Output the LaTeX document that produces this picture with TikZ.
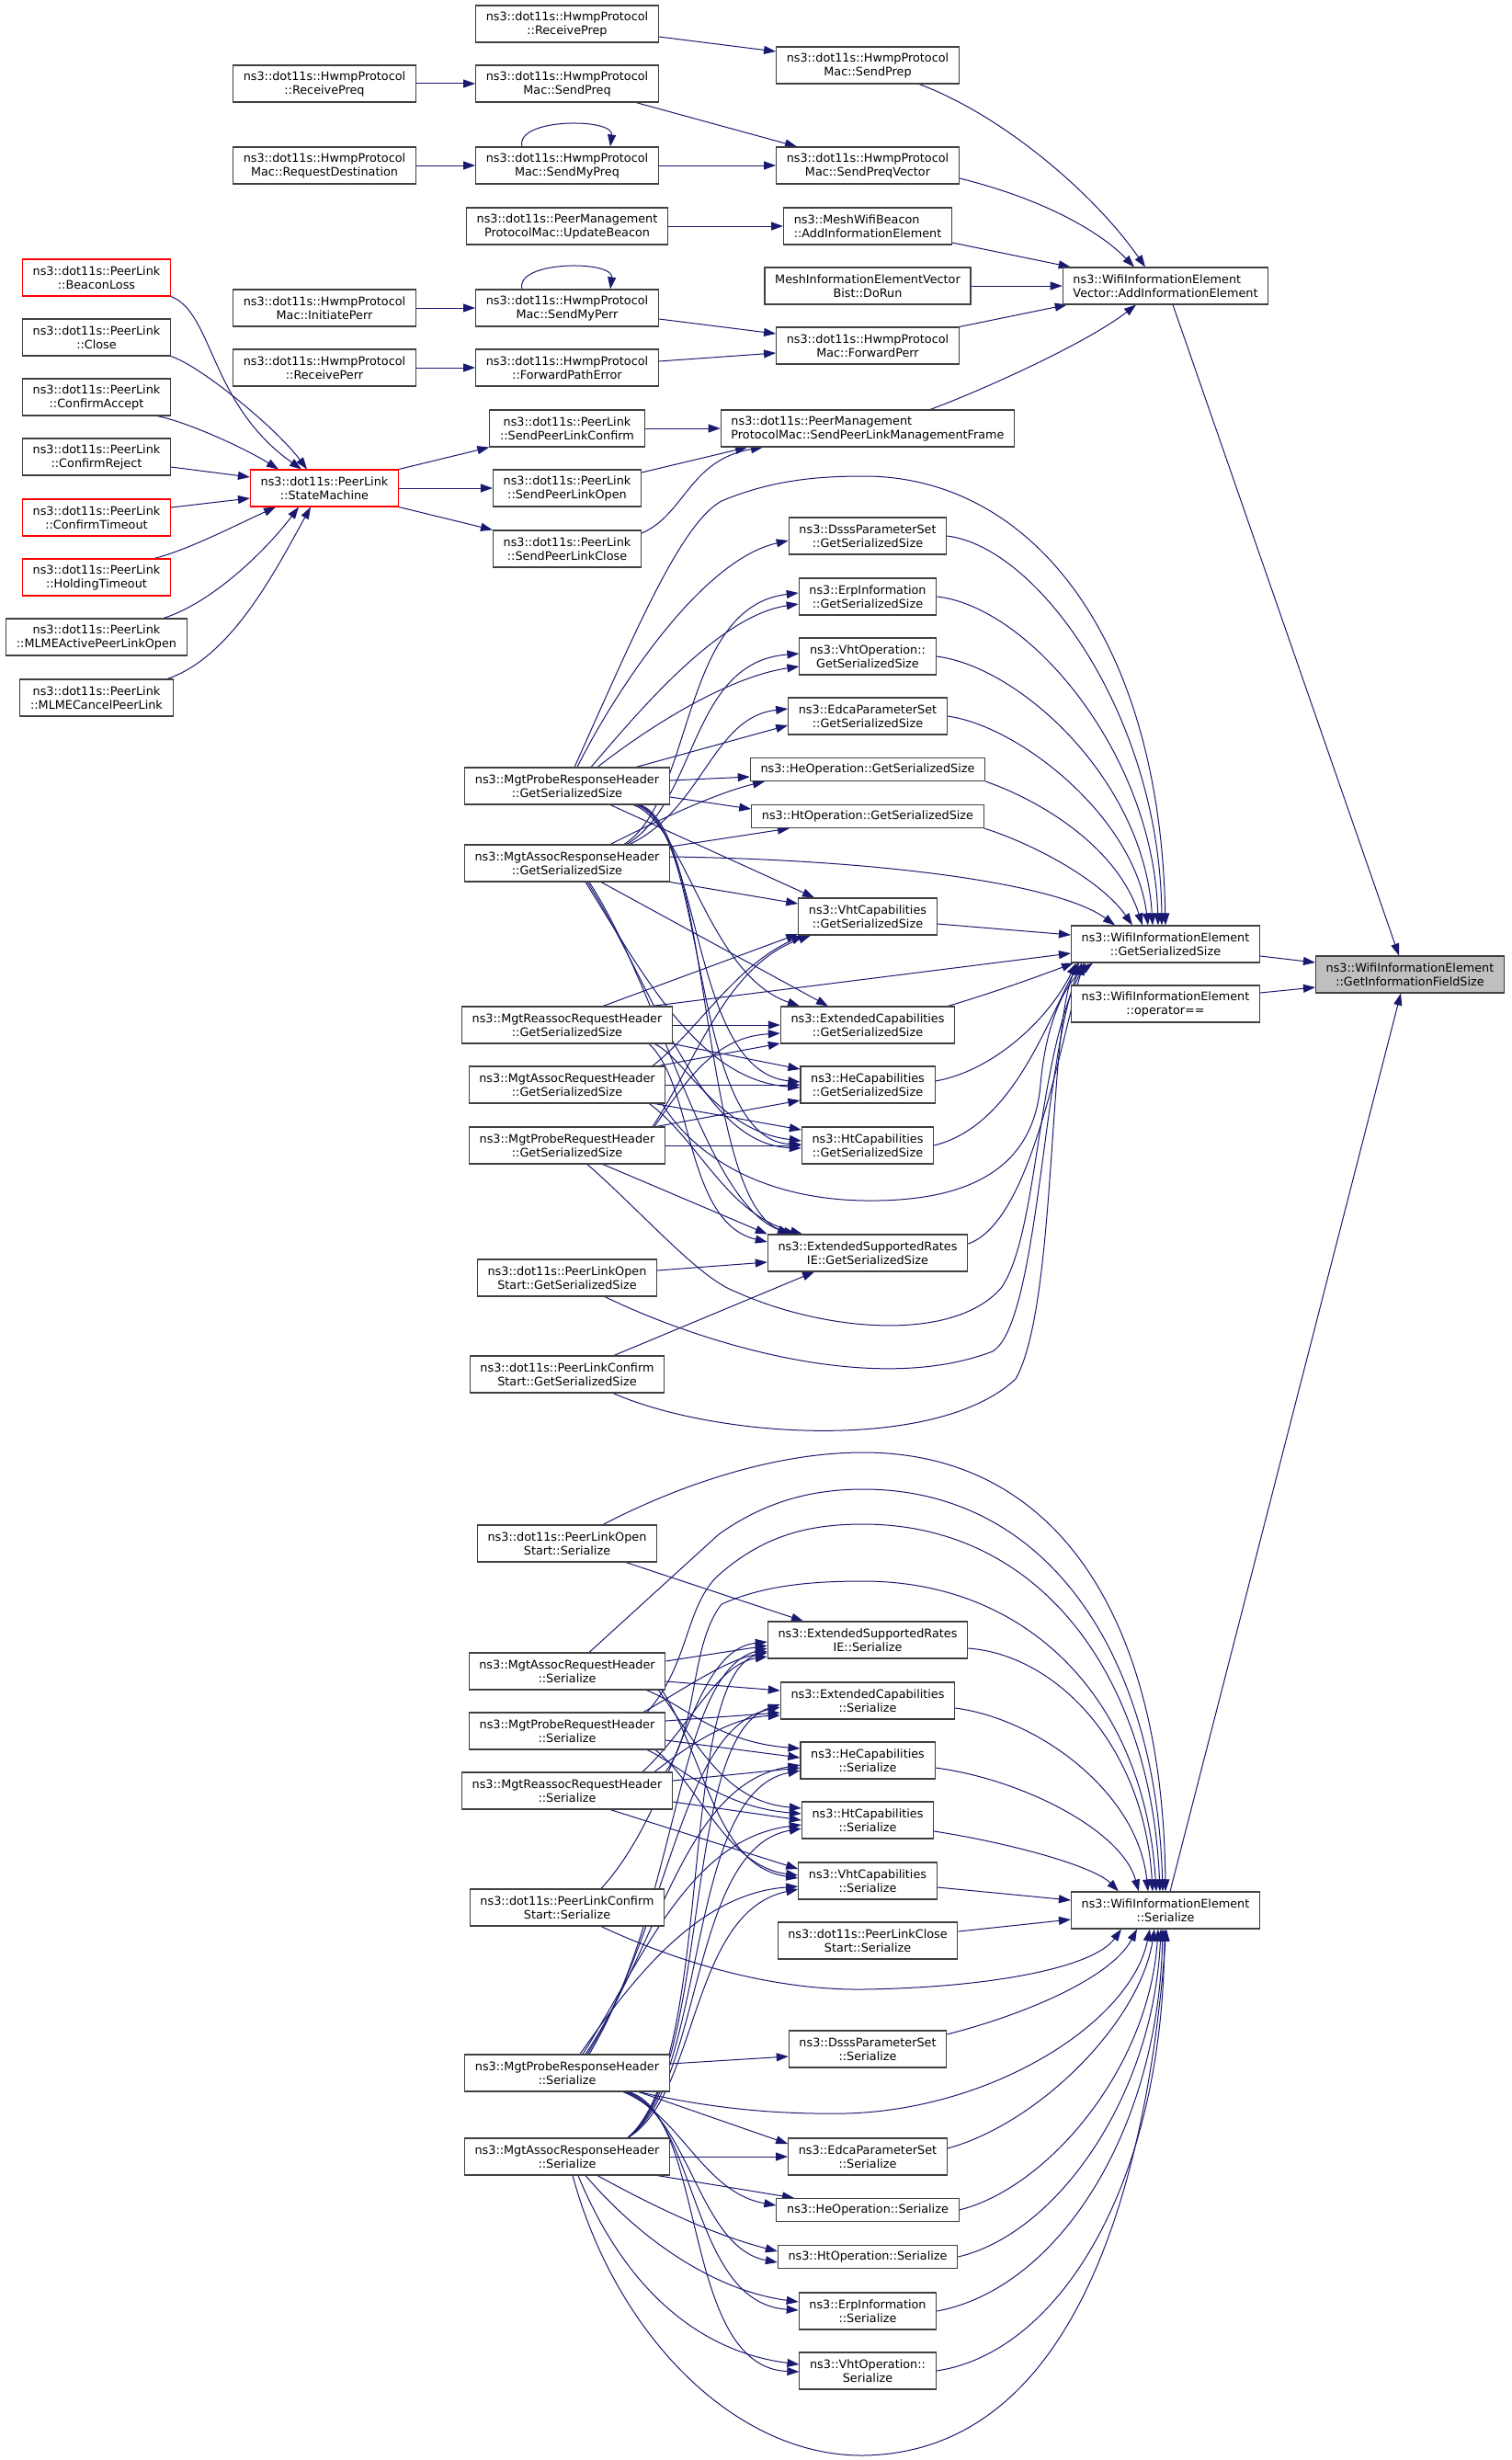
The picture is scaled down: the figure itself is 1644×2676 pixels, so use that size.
\documentclass[tikz,border=0pt]{standalone}
\usepackage{fontspec}
\setmainfont{DejaVu Sans}
\usetikzlibrary{arrows.meta}
\definecolor{edgeblue}{HTML}{191970}
\definecolor{boxgray}{HTML}{404040}
\definecolor{linkred}{HTML}{FF0000}
\definecolor{curgray}{HTML}{BFBFBF}
\newcommand{\nodefont}{\fontsize{6.4}{7.5}\selectfont}
\pgfdeclarelayer{back}
\pgfsetlayers{back,main}
\tikzstyle{fnode} = [draw=boxgray, fill=white, line width=0.55pt, align=center, font=\nodefont, inner xsep=5.6pt, inner ysep=2pt, minimum height=20pt]
\tikzstyle{lnode} = [fnode, align=left]
\tikzstyle{rnode} = [fnode, draw=linkred]
\tikzstyle{snode} = [fnode, minimum height=12.5pt]
\tikzstyle{cnode} = [fnode, fill=curgray]
\tikzstyle{call} = [draw=edgeblue, line width=0.5pt, -{Triangle[length=6.5pt,width=4.5pt]}]

\begin{document}
\begin{tikzpicture}[x=0.5pt, y=-0.5pt]
	\useasboundingbox (0,0) rectangle (1644,2676);

	\node [rnode] (bl) at (105,302) {ns3::dot11s::PeerLink\\::BeaconLoss};
	\node [fnode] (cl) at (105,367) {ns3::dot11s::PeerLink\\::Close};
	\node [fnode] (ca) at (105,432) {ns3::dot11s::PeerLink\\::ConfirmAccept};
	\node [fnode] (cr) at (105,497) {ns3::dot11s::PeerLink\\::ConfirmReject};
	\node [rnode] (ct) at (105,563) {ns3::dot11s::PeerLink\\::ConfirmTimeout};
	\node [rnode] (ht) at (105,628) {ns3::dot11s::PeerLink\\::HoldingTimeout};
	\node [fnode] (mo) at (105,693) {ns3::dot11s::PeerLink\\::MLMEActivePeerLinkOpen};
	\node [fnode] (mc) at (105,759) {ns3::dot11s::PeerLink\\::MLMECancelPeerLink};

	\node [fnode] (rpq) at (353,91) {ns3::dot11s::HwmpProtocol\\::ReceivePreq};
	\node [fnode] (rd) at (353,180) {ns3::dot11s::HwmpProtocol\\Mac::RequestDestination};
	\node [fnode] (ip) at (353,335) {ns3::dot11s::HwmpProtocol\\Mac::InitiatePerr};
	\node [fnode] (rpe) at (353,400) {ns3::dot11s::HwmpProtocol\\::ReceivePerr};
	\node [rnode] (sm) at (353,531) {ns3::dot11s::PeerLink\\::StateMachine};

	\node [fnode] (rpp) at (617,26) {ns3::dot11s::HwmpProtocol\\::ReceivePrep};
	\node [fnode] (spq) at (617,91) {ns3::dot11s::HwmpProtocol\\Mac::SendPreq};
	\node [fnode] (smq) at (617,180) {ns3::dot11s::HwmpProtocol\\Mac::SendMyPreq};
	\node [fnode] (ub) at (617,246) {ns3::dot11s::PeerManagement\\ProtocolMac::UpdateBeacon};
	\node [fnode] (sme) at (617,335) {ns3::dot11s::HwmpProtocol\\Mac::SendMyPerr};
	\node [fnode] (fpe) at (617,400) {ns3::dot11s::HwmpProtocol\\::ForwardPathError};
	\node [fnode] (splc) at (617,466) {ns3::dot11s::PeerLink\\::SendPeerLinkConfirm};
	\node [fnode] (splo) at (617,531) {ns3::dot11s::PeerLink\\::SendPeerLinkOpen};
	\node [fnode] (splx) at (617,597) {ns3::dot11s::PeerLink\\::SendPeerLinkClose};

	\node [fnode] (spp) at (944,71) {ns3::dot11s::HwmpProtocol\\Mac::SendPrep};
	\node [fnode] (spv) at (944,180) {ns3::dot11s::HwmpProtocol\\Mac::SendPreqVector};
	\node [lnode] (mwb) at (944,246) {ns3::MeshWifiBeacon\\::AddInformationElement};
	\node [fnode] (dr) at (944,311) {MeshInformationElementVector\\Bist::DoRun};
	\node [fnode] (fpr) at (944,376) {ns3::dot11s::HwmpProtocol\\Mac::ForwardPerr};
	\node [lnode] (splmf) at (944,466) {ns3::dot11s::PeerManagement\\ProtocolMac::SendPeerLinkManagementFrame};

	\node [lnode] (aie) at (1268,311) {ns3::WifiInformationElement\\Vector::AddInformationElement};

	\node [fnode] (prhg) at (617,855) {ns3::MgtProbeResponseHeader\\::GetSerializedSize};
	\node [fnode] (arhg) at (617,939) {ns3::MgtAssocResponseHeader\\::GetSerializedSize};
	\node [fnode] (rrhg) at (617,1115) {ns3::MgtReassocRequestHeader\\::GetSerializedSize};
	\node [fnode] (aqhg) at (617,1180) {ns3::MgtAssocRequestHeader\\::GetSerializedSize};
	\node [fnode] (pqhg) at (617,1246) {ns3::MgtProbeRequestHeader\\::GetSerializedSize};
	\node [fnode] (plosg) at (617,1390) {ns3::dot11s::PeerLinkOpen\\Start::GetSerializedSize};
	\node [fnode] (plcsg) at (617,1495) {ns3::dot11s::PeerLinkConfirm\\Start::GetSerializedSize};

	\node [fnode] (dsg) at (944,583) {ns3::DsssParameterSet\\::GetSerializedSize};
	\node [fnode] (erg) at (944,649) {ns3::ErpInformation\\::GetSerializedSize};
	\node [fnode] (vog) at (944,714) {ns3::VhtOperation::\\GetSerializedSize};
	\node [fnode] (edg) at (944,779) {ns3::EdcaParameterSet\\::GetSerializedSize};
	\node [snode] (heog) at (944,837) {ns3::HeOperation::GetSerializedSize};
	\node [snode] (htog) at (944,888) {ns3::HtOperation::GetSerializedSize};
	\node [fnode] (vcg) at (944,997) {ns3::VhtCapabilities\\::GetSerializedSize};
	\node [fnode] (ecg) at (944,1115) {ns3::ExtendedCapabilities\\::GetSerializedSize};
	\node [fnode] (hcg) at (944,1180) {ns3::HeCapabilities\\::GetSerializedSize};
	\node [fnode] (htcg) at (944,1246) {ns3::HtCapabilities\\::GetSerializedSize};
	\node [fnode] (esrg) at (944,1363) {ns3::ExtendedSupportedRates\\IE::GetSerializedSize};

	\node [fnode] (gss) at (1268,1027) {ns3::WifiInformationElement\\::GetSerializedSize};
	\node [fnode] (opeq) at (1268,1092) {ns3::WifiInformationElement\\::operator==};
	\node [cnode] (gifs) at (1534,1060) {ns3::WifiInformationElement\\::GetInformationFieldSize};

	\node [fnode] (ploss) at (617,1679) {ns3::dot11s::PeerLinkOpen\\Start::Serialize};
	\node [fnode] (aqhs) at (617,1818) {ns3::MgtAssocRequestHeader\\::Serialize};
	\node [fnode] (pqhs) at (617,1883) {ns3::MgtProbeRequestHeader\\::Serialize};
	\node [fnode] (rrhs) at (617,1948) {ns3::MgtReassocRequestHeader\\::Serialize};
	\node [fnode] (plcss) at (617,2075) {ns3::dot11s::PeerLinkConfirm\\Start::Serialize};
	\node [fnode] (prhs) at (617,2255) {ns3::MgtProbeResponseHeader\\::Serialize};
	\node [fnode] (arhs) at (617,2346) {ns3::MgtAssocResponseHeader\\::Serialize};

	\node [fnode] (esrs) at (944,1784) {ns3::ExtendedSupportedRates\\IE::Serialize};
	\node [fnode] (ecs) at (944,1850) {ns3::ExtendedCapabilities\\::Serialize};
	\node [fnode] (hcs) at (944,1915) {ns3::HeCapabilities\\::Serialize};
	\node [fnode] (htcs) at (944,1980) {ns3::HtCapabilities\\::Serialize};
	\node [fnode] (vcs) at (944,2046) {ns3::VhtCapabilities\\::Serialize};
	\node [fnode] (plxs) at (944,2111) {ns3::dot11s::PeerLinkClose\\Start::Serialize};
	\node [fnode] (dss) at (944,2229) {ns3::DsssParameterSet\\::Serialize};
	\node [fnode] (eds) at (944,2346) {ns3::EdcaParameterSet\\::Serialize};
	\node [snode] (heos) at (944,2404) {ns3::HeOperation::Serialize};
	\node [snode] (htos) at (944,2455) {ns3::HtOperation::Serialize};
	\node [fnode] (ers) at (944,2514) {ns3::ErpInformation\\::Serialize};
	\node [fnode] (vos) at (944,2579) {ns3::VhtOperation::\\Serialize};

	\node [fnode] (ser) at (1268,2078) {ns3::WifiInformationElement\\::Serialize};

	\begin{pgfonlayer}{back}
	\path [call] (bl.south east) .. controls (232,340) and (228,440) .. ([shift={(-25,0)}]sm.north);
	\path [call] (cl.south east) .. controls (218,398) and (300,465) .. ([shift={(-19,0)}]sm.north);
	\path [call] ([shift={(-15,0)}]ca.south east) .. controls (200,458) and (262,485) .. ([shift={(-50,0)}]sm.north);
	\path [call] ([shift={(0,11)}]cr.east) -- ([shift={(0,-12)}]sm.west);
	\path [call] ([shift={(0,-11)}]ct.east) -- ([shift={(0,11)}]sm.west);
	\path [call] ([shift={(63,0)}]ht.north) .. controls (205,598) and (255,572) .. ([shift={(-53,0)}]sm.south);
	\path [call] ([shift={(73,0)}]mo.north) .. controls (232,655) and (290,598) .. ([shift={(-28,0)}]sm.south);
	\path [call] ([shift={(77,0)}]mc.north) .. controls (252,715) and (300,620) .. ([shift={(-15,0)}]sm.south);

	\path [call] (rpq.east) -- (spq.west);
	\path [call] (rd.east) -- (smq.west);
	\path [call] (ip.east) -- (sme.west);
	\path [call] (rpe.east) -- (fpe.west);
	\path [call] ([shift={(-49,0)}]smq.north) .. controls (560,128) and (668,128) .. ([shift={(47,0)}]smq.north);
	\path [call] ([shift={(-49,0)}]sme.north) .. controls (560,283) and (668,283) .. ([shift={(47,0)}]sme.north);
	\path [call] (sm.north east) -- (splc.south west);
	\path [call] (sm.east) -- (splo.west);
	\path [call] (sm.south east) -- (splx.north west);

	\path [call] ([shift={(0,14)}]rpp.east) -- ([shift={(0,-15)}]spp.west);
	\path [call] ([shift={(75,0)}]spq.south) -- ([shift={(-77,0)}]spv.north);
	\path [call] (smq.east) -- (spv.west);
	\path [call] (ub.east) -- (mwb.west);
	\path [call] ([shift={(0,12)}]sme.east) -- ([shift={(0,-13)}]fpr.west);
	\path [call] ([shift={(0,-7)}]fpe.east) -- ([shift={(0,8)}]fpr.west);
	\path [call] (splc.east) -- (splmf.west);
	\path [call] ([shift={(0,-17)}]splo.east) -- ([shift={(-131,0)}]splmf.south);
	\path [call] ([shift={(0,-17)}]splx.east) .. controls (745,560) and (750,500) .. ([shift={(-114,0)}]splmf.south);

	\path [call] ([shift={(56,0)}]spp.south) .. controls (1090,125) and (1190,210) .. ([shift={(-22,0)}]aie.north);
	\path [call] ([shift={(0,14)}]spv.east) .. controls (1130,215) and (1195,250) .. ([shift={(-34,0)}]aie.north);
	\path [call] ([shift={(0,18)}]mwb.east) -- ([shift={(9,0)}]aie.north west);
	\path [call] (dr.east) -- (aie.west);
	\path [call] (fpr.north east) -- ([shift={(5,0)}]aie.south west);
	\path [call] ([shift={(68,0)}]splmf.north) .. controls (1060,428) and (1180,375) .. ([shift={(-32,0)}]aie.south);

	\path [call] ([shift={(8,0)}]aie.south) -- ([shift={(-12,0)}]gifs.north);
	\path [call] ([shift={(0,13)}]gss.east) -- ([shift={(0,-13)}]gifs.west);
	\path [call] ([shift={(0,-12)}]opeq.east) -- ([shift={(0,14)}]gifs.west);
	\path [call] ([shift={(5,0)}]ser.north) -- ([shift={(-10,0)}]gifs.south);

	\path [call] ([shift={(8,0)}]prhg.north) .. controls (690,690) and (740,570) .. (785,545) .. controls (840,522) and (890,518) .. (940,518) .. controls (1120,518) and (1262,690) .. (gss.north);
	\path [call] ([shift={(11,0)}]prhg.north) .. controls (665,760) and (760,610) .. ([shift={(0,5)}]dsg.west);
	\path [call] ([shift={(26,0)}]prhg.north) .. controls (690,780) and (780,670) .. ([shift={(0,8)}]erg.west);
	\path [call] ([shift={(33,0)}]prhg.north) .. controls (720,780) and (800,735) .. ([shift={(0,11)}]vog.west);
	\path [call] ([shift={(75,0)}]prhg.north) -- ([shift={(0,10)}]edg.west);
	\path [call] ([shift={(0,-6)}]prhg.east) -- ([shift={(0,8)}]heog.west);
	\path [call] ([shift={(0,12)}]prhg.east) -- ([shift={(0,-8)}]htog.west);
	\path [call] ([shift={(47,0)}]prhg.south) -- ([shift={(-58,0)}]vcg.north);
	\path [call] ([shift={(72,0)}]prhg.south) .. controls (745,895) and (770,1060) .. ([shift={(-74,0)}]ecg.north);
	\path [call] ([shift={(75,0)}]prhg.south) .. controls (765,900) and (750,1165) .. ([shift={(0,-3)}]hcg.west);
	\path [call] ([shift={(77,0)}]prhg.south) .. controls (770,900) and (750,1240) .. ([shift={(0,-1)}]htcg.west);
	\path [call] ([shift={(79,0)}]prhg.south) .. controls (775,900) and (760,1300) .. ([shift={(-85,0)}]esrg.north);

	\path [call] ([shift={(62,0)}]arhg.north) .. controls (755,870) and (740,660) .. ([shift={(0,-4)}]erg.west);
	\path [call] ([shift={(65,0)}]arhg.north) .. controls (760,870) and (750,720) .. ([shift={(0,-3)}]vog.west);
	\path [call] ([shift={(68,0)}]arhg.north) .. controls (765,880) and (775,780) .. ([shift={(0,-8)}]edg.west);
	\path [call] ([shift={(47,0)}]arhg.north) .. controls (740,880) and (790,860) .. ([shift={(-112,0)}]heog.south);
	\path [call] ([shift={(0,-18)}]arhg.east) -- ([shift={(-85,0)}]htog.south);
	\path [call] ([shift={(0,-7)}]arhg.east) .. controls (950,935) and (1150,960) .. ([shift={(-55,0)}]gss.north);
	\path [call] (arhg.south east) -- ([shift={(0,-14)}]vcg.west);
	\path [call] ([shift={(37,0)}]arhg.south) -- ([shift={(-43,0)}]ecg.north);
	\path [call] ([shift={(20,0)}]arhg.south) .. controls (700,1060) and (760,1175) .. ([shift={(0,3)}]hcg.west);
	\path [call] ([shift={(22,0)}]arhg.south) .. controls (710,1070) and (760,1245) .. ([shift={(0,3)}]htcg.west);
	\path [call] ([shift={(24,0)}]arhg.south) .. controls (720,1080) and (770,1320) .. ([shift={(-78,0)}]esrg.north);

	\path [call] ([shift={(39,0)}]rrhg.north) -- ([shift={(0,19)}]vcg.west);
	\path [call] ([shift={(92,0)}]rrhg.north) -- ([shift={(0,10)}]gss.west);
	\path [call] (rrhg.east) -- (ecg.west);
	\path [call] (rrhg.south east) -- ([shift={(0,-17)}]hcg.west);
	\path [call] ([shift={(-20,0)}]rrhg.south east) .. controls (745,1150) and (780,1230) .. ([shift={(0,-5)}]htcg.west);
	\path [call] ([shift={(-26,0)}]rrhg.south east) .. controls (755,1180) and (745,1330) .. ([shift={(0,-12)}]esrg.west);

	\path [call] ([shift={(93,0)}]aqhg.north) .. controls (760,1120) and (800,1050) .. ([shift={(-70,0)}]vcg.south);
	\path [call] ([shift={(-8,0)}]aqhg.north east) -- ([shift={(0,20)}]ecg.west);
	\path [call] (aqhg.east) -- (hcg.west);
	\path [call] ([shift={(-12,0)}]aqhg.south east) -- ([shift={(0,-17)}]htcg.west);
	\path [call] ([shift={(-18,0)}]aqhg.south east) .. controls (760,1240) and (790,1320) .. ([shift={(-71,0)}]esrg.north);
	\path [call] ([shift={(-4,0)}]aqhg.south east) .. controls (750,1250) and (820,1304) .. (940,1306) .. controls (1070,1308) and (1125,1260) .. (1132,1180) .. controls (1138,1110) and (1160,1068) .. ([shift={(24,0)}]gss.south west);

	\path [call] ([shift={(93,0)}]pqhg.north) .. controls (760,1150) and (790,1050) .. ([shift={(-62,0)}]vcg.south);
	\path [call] ([shift={(95,0)}]pqhg.north) .. controls (750,1170) and (780,1128) .. ([shift={(0,9)}]ecg.west);
	\path [call] ([shift={(97,0)}]pqhg.north) -- ([shift={(0,17)}]hcg.west);
	\path [call] (pqhg.east) -- (htcg.west);
	\path [call] ([shift={(39,0)}]pqhg.south) -- (esrg.north west);
	\path [call] ([shift={(22,0)}]pqhg.south) .. controls (700,1320) and (760,1390) .. (800,1405) .. controls (900,1450) and (1040,1460) .. (1090,1400) .. controls (1130,1340) and (1128,1150) .. ([shift={(16,0)}]gss.south west);

	\path [call] ([shift={(0,-8)}]plosg.east) -- ([shift={(0,10)}]esrg.west);
	\path [call] ([shift={(41,0)}]plosg.south) .. controls (760,1460) and (950,1520) .. (1080,1470) .. controls (1130,1440) and (1135,1150) .. ([shift={(12,0)}]gss.south west);
	\path [call] ([shift={(51,0)}]plcsg.north) -- ([shift={(-58,0)}]esrg.south);
	\path [call] ([shift={(50,0)}]plcsg.south) .. controls (780,1565) and (1020,1580) .. (1105,1500) .. controls (1150,1420) and (1140,1120) .. ([shift={(8,0)}]gss.south west);

	\path [call] (dsg.east) .. controls (1130,595) and (1262,780) .. ([shift={(-4,0)}]gss.north);
	\path [call] (erg.east) .. controls (1120,660) and (1255,820) .. ([shift={(-8,0)}]gss.north);
	\path [call] (vog.east) .. controls (1110,725) and (1245,850) .. ([shift={(-14,0)}]gss.north);
	\path [call] (edg.east) .. controls (1110,790) and (1235,890) .. ([shift={(-19,0)}]gss.north);
	\path [call] (heog.south east) .. controls (1130,870) and (1215,920) .. ([shift={(-25,0)}]gss.north);
	\path [call] (htog.south east) .. controls (1130,920) and (1200,960) .. ([shift={(-36,0)}]gss.north);
	\path [call] ([shift={(0,8)}]vcg.east) -- ([shift={(0,-10)}]gss.west);
	\path [call] ([shift={(-8,0)}]ecg.north east) .. controls (1080,1080) and (1130,1062) .. ([shift={(3,0)}]gss.south west);
	\path [call] ([shift={(0,-4)}]hcg.east) .. controls (1080,1165) and (1140,1110) .. ([shift={(6,0)}]gss.south west);
	\path [call] (htcg.east) .. controls (1100,1225) and (1135,1120) .. ([shift={(9,0)}]gss.south west);
	\path [call] ([shift={(0,-10)}]esrg.east) .. controls (1120,1330) and (1150,1150) .. ([shift={(14,0)}]gss.south west);

	\path [call] ([shift={(64,0)}]ploss.south) -- ([shift={(-70,0)}]esrs.north);
	\path [call] ([shift={(39,0)}]ploss.north) .. controls (720,1625) and (830,1580) .. (939,1580) .. controls (1150,1580) and (1265,1760) .. (ser.north);

	\path [call] ([shift={(0,-11)}]aqhs.east) -- ([shift={(0,6)}]esrs.west);
	\path [call] ([shift={(0,11)}]aqhs.east) -- ([shift={(0,-11)}]ecs.west);
	\path [call] ([shift={(-21,0)}]aqhs.south east) .. controls (745,1855) and (780,1895) .. ([shift={(0,-13)}]hcs.west);
	\path [call] ([shift={(-8,0)}]aqhs.south east) .. controls (760,1900) and (790,1960) .. ([shift={(0,-13)}]htcs.west);
	\path [call] ([shift={(-4,0)}]aqhs.south east) .. controls (770,1920) and (780,2030) .. ([shift={(0,-3)}]vcs.west);
	\path [call] ([shift={(24,0)}]aqhs.north) -- (782,1669) .. controls (830,1635) and (880,1620) .. (939,1620) .. controls (1140,1620) and (1258,1800) .. ([shift={(-3,0)}]ser.north);

	\path [call] ([shift={(-24,0)}]pqhs.north east) .. controls (740,1840) and (790,1805) .. ([shift={(0,14)}]esrs.west);
	\path [call] ([shift={(0,-11)}]pqhs.east) -- ([shift={(0,13)}]ecs.west);
	\path [call] ([shift={(0,10)}]pqhs.east) -- ([shift={(0,-3)}]hcs.west);
	\path [call] ([shift={(-20,0)}]pqhs.south east) .. controls (740,1920) and (780,1965) .. ([shift={(0,-7)}]htcs.west);
	\path [call] ([shift={(-11,0)}]pqhs.south east) .. controls (760,1940) and (790,2030) .. ([shift={(0,-6)}]vcs.west);
	\path [call] ([shift={(-20,0)}]pqhs.north east) .. controls (750,1810) and (745,1750) .. (780,1715) .. controls (830,1670) and (880,1658) .. (939,1658) .. controls (1130,1658) and (1252,1820) .. ([shift={(-6,0)}]ser.north);

	\path [call] ([shift={(-33,0)}]rrhs.north east) .. controls (750,1880) and (780,1810) .. ([shift={(0,18)}]esrs.west);
	\path [call] ([shift={(-20,0)}]rrhs.north east) .. controls (760,1890) and (800,1868) .. ([shift={(0,16)}]ecs.west);
	\path [call] ([shift={(0,-11)}]rrhs.east) -- ([shift={(0,8)}]hcs.west);
	\path [call] ([shift={(0,12)}]rrhs.east) -- (htcs.west);
	\path [call] ([shift={(47,0)}]rrhs.south) -- ([shift={(0,-13)}]vcs.west);
	\path [call] ([shift={(-8,0)}]rrhs.north east) .. controls (760,1880) and (750,1790) .. (785,1745) .. controls (830,1725) and (880,1720) .. (939,1720) .. controls (1120,1720) and (1245,1850) .. ([shift={(-10,0)}]ser.north);

	\path [call] ([shift={(37,0)}]plcss.north) .. controls (740,1960) and (750,1795) .. ([shift={(0,2)}]esrs.west);
	\path [call] ([shift={(37,0)}]plcss.south) .. controls (760,2145) and (860,2165) .. (939,2164) .. controls (1080,2162) and (1190,2140) .. ([shift={(-48,0)}]ser.south);

	\path [call] ([shift={(0,-10)}]prhs.east) -- ([shift={(0,8)}]dss.west);
	\path [call] ([shift={(-34,0)}]prhs.south east) -- ([shift={(0,-14)}]eds.west);
	\path [call] ([shift={(-51,0)}]prhs.south east) .. controls (740,2300) and (765,2385) .. ([shift={(0,-5)}]heos.west);
	\path [call] ([shift={(-49,0)}]prhs.south east) .. controls (750,2300) and (760,2445) .. ([shift={(0,6)}]htos.west);
	\path [call] ([shift={(-47,0)}]prhs.south east) .. controls (760,2300) and (750,2505) .. ([shift={(0,-1)}]ers.west);
	\path [call] ([shift={(-45,0)}]prhs.south east) .. controls (770,2300) and (740,2575) .. ([shift={(0,1)}]vos.west);
	\path [call] ([shift={(-34,0)}]prhs.south east) .. controls (780,2295) and (850,2300) .. (920,2299) .. controls (1080,2295) and (1230,2200) .. ([shift={(-17,0)}]ser.south);
	\path [call] ([shift={(14,0)}]prhs.north) .. controls (690,2150) and (760,2060) .. ([shift={(0,6)}]vcs.west);
	\path [call] ([shift={(17,0)}]prhs.north) .. controls (700,2130) and (750,2000) .. ([shift={(0,5)}]htcs.west);
	\path [call] ([shift={(20,0)}]prhs.north) .. controls (720,2110) and (745,1940) .. ([shift={(0,5)}]hcs.west);
	\path [call] ([shift={(22,0)}]prhs.north) .. controls (730,2090) and (740,1880) .. ([shift={(0,7)}]ecs.west);
	\path [call] ([shift={(24,0)}]prhs.north) .. controls (740,2070) and (735,1820) .. ([shift={(0,9)}]esrs.west);

	\path [call] (arhs.east) -- (eds.west);
	\path [call] ([shift={(-14,0)}]arhs.south east) -- ([shift={(-80,0)}]heos.north);
	\path [call] ([shift={(33,0)}]arhs.south) .. controls (720,2405) and (780,2432) .. ([shift={(0,-6)}]htos.west);
	\path [call] ([shift={(20,0)}]arhs.south) .. controls (700,2440) and (780,2492) .. ([shift={(0,-10)}]ers.west);
	\path [call] ([shift={(12,0)}]arhs.south) .. controls (680,2490) and (760,2558) .. ([shift={(0,-7)}]vos.west);
	\path [call] ([shift={(6,0)}]arhs.south) .. controls (670,2540) and (800,2672) .. (939,2671) .. controls (1180,2668) and (1250,2350) .. ([shift={(1,0)}]ser.south);
	\path [call] ([shift={(66,0)}]arhs.north) .. controls (760,2280) and (750,2080) .. ([shift={(0,9)}]vcs.west);
	\path [call] ([shift={(66,0)}]arhs.north) .. controls (765,2270) and (750,2010) .. ([shift={(0,9)}]htcs.west);
	\path [call] ([shift={(66,0)}]arhs.north) .. controls (770,2260) and (745,1950) .. ([shift={(0,11)}]hcs.west);
	\path [call] ([shift={(66,0)}]arhs.north) .. controls (775,2250) and (740,1890) .. ([shift={(0,4)}]ecs.west);
	\path [call] ([shift={(66,0)}]arhs.north) .. controls (780,2240) and (735,1830) .. ([shift={(0,12)}]esrs.west);

	\path [call] ([shift={(0,9)}]esrs.east) .. controls (1150,1800) and (1245,1900) .. ([shift={(-14,0)}]ser.north);
	\path [call] ([shift={(0,8)}]ecs.east) .. controls (1130,1870) and (1238,1950) .. ([shift={(-19,0)}]ser.north);
	\path [call] ([shift={(0,8)}]hcs.east) .. controls (1110,1935) and (1220,1990) .. ([shift={(-29,0)}]ser.north);
	\path [call] ([shift={(0,12)}]htcs.east) .. controls (1100,2005) and (1190,2030) .. ([shift={(-51,0)}]ser.north);
	\path [call] ([shift={(0,7)}]vcs.east) -- ([shift={(0,-11)}]ser.west);
	\path [call] ([shift={(0,-10)}]plxs.east) -- ([shift={(0,10)}]ser.west);
	\path [call] ([shift={(0,-16)}]dss.east) .. controls (1120,2190) and (1210,2150) .. ([shift={(-31,0)}]ser.south);
	\path [call] ([shift={(0,-9)}]eds.east) .. controls (1130,2310) and (1240,2200) .. ([shift={(-12,0)}]ser.south);
	\path [call] (heos.east) .. controls (1140,2380) and (1250,2250) .. ([shift={(-8,0)}]ser.south);
	\path [call] (htos.east) .. controls (1150,2430) and (1255,2280) .. ([shift={(-5,0)}]ser.south);
	\path [call] (ers.east) .. controls (1150,2490) and (1260,2320) .. ([shift={(-3,0)}]ser.south);
	\path [call] (vos.east) .. controls (1150,2560) and (1265,2380) .. ([shift={(-1,0)}]ser.south);
	\end{pgfonlayer}
\end{tikzpicture}
\end{document}
